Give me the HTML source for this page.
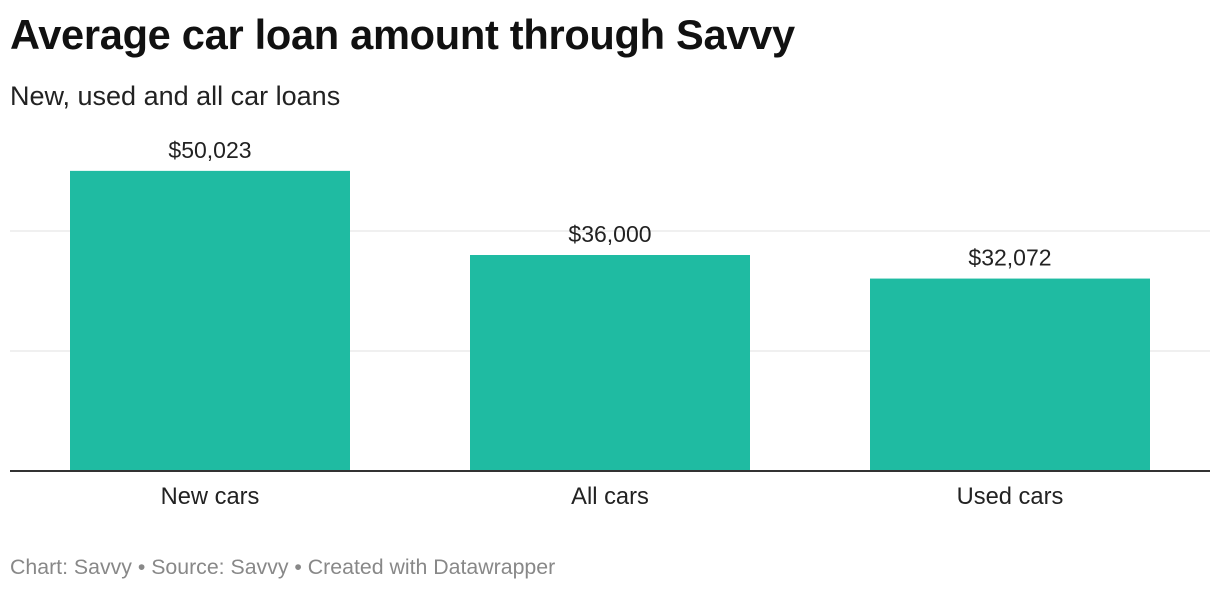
<!DOCTYPE html>
<html><head><meta charset="utf-8">
<style>
body{margin:0;background:#fff;width:1220px;height:592px;overflow:hidden;font-family:"Liberation Sans",Arial,sans-serif}
#title{position:absolute;left:10px;top:11px;font-size:41.6px;font-weight:bold;color:#111;margin:0;letter-spacing:-0.3px}
#sub{position:absolute;left:10px;top:81px;font-size:27px;color:#222}
#foot{position:absolute;left:10px;top:555px;font-size:21.3px;color:#888}
svg{position:absolute;left:0;top:0}
</style></head><body>
<h1 id="title">Average car loan amount through Savvy</h1>
<div id="sub">New, used and all car loans</div>
<svg id="chart" width="1220" height="592"></svg>
<div id="foot">Chart: Savvy • Source: Savvy • Created with Datawrapper</div>
<script>
const categories=["New cars","All cars","Used cars"];
const values=[50023,36000,32072];
const valueLabels=["$50,023","$36,000","$32,072"];
const gridTicks=[20000,40000];
const svg=document.getElementById('chart');
const NS='http://www.w3.org/2000/svg';
const baseY=471,pxPer=120/20000,left=10,right=1210,bandW=400,barW=280;
const y=v=>baseY-v*pxPer;
const xc=i=>left+bandW*i+bandW/2;
function mk(t,a){const e=document.createElementNS(NS,t);for(const k in a)e.setAttribute(k,a[k]);svg.appendChild(e);return e;}
gridTicks.forEach(t=>{const g=mk('line',{x1:left,x2:right,y1:y(t),y2:y(t),stroke:'#e0e0e0','stroke-width':1});

});
values.forEach((v,i)=>{
const r=mk('rect',{x:xc(i)-barW/2,y:y(v),width:barW,height:baseY-y(v),fill:'#1fbba2'});


const t=mk('text',{x:xc(i),y:y(v)-13,'text-anchor':'middle','font-size':23,fill:'#222','font-family':'Liberation Sans, Arial, sans-serif'});
t.textContent=valueLabels[i];


const c=mk('text',{x:xc(i),y:baseY+33,'text-anchor':'middle','font-size':23.7,fill:'#222','font-family':'Liberation Sans, Arial, sans-serif'});
c.textContent=categories[i];


});
const ax=mk('line',{x1:left,x2:right,y1:baseY,y2:baseY,stroke:'#333','stroke-width':2});


</script>
</body></html>
